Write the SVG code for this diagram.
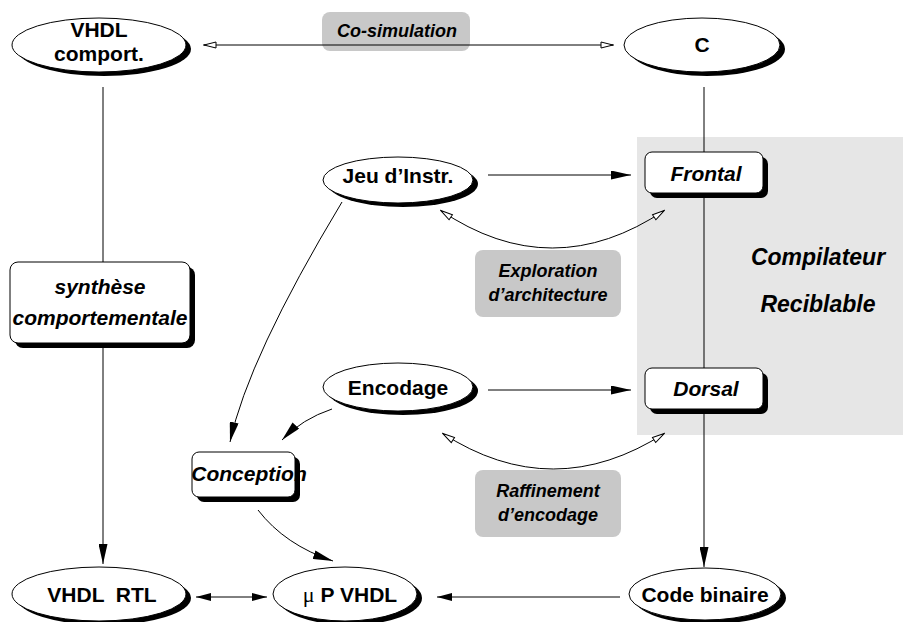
<svg xmlns="http://www.w3.org/2000/svg" width="903" height="622" viewBox="0 0 903 622">
  <style>
    .lbl { font-family: "Liberation Sans", Arial, sans-serif; font-weight: bold; font-size: 21px; fill: #000; text-anchor: middle; }
    .it { font-style: italic; }
    .note { font-family: "Liberation Sans", Arial, sans-serif; font-weight: bold; font-style: italic; font-size: 18px; fill: #000; text-anchor: middle; }
    .big { font-family: "Liberation Sans", Arial, sans-serif; font-weight: bold; font-style: italic; font-size: 23px; fill: #000; text-anchor: middle; }
    .node { fill: #fff; stroke: #000; stroke-width: 1; }
    .shadow { fill: #000; }
    .panel { fill: #c8c8c8; }
    .edge { fill: none; stroke: #000; stroke-width: 1; }
  </style>
  <defs>
    <marker id="solid" viewBox="0 0 20 9" refX="20" refY="4.5" markerWidth="20" markerHeight="9" markerUnits="userSpaceOnUse" orient="auto-start-reverse">
      <path d="M0,0 L20,4.5 L0,9 Z" fill="#000"/>
    </marker>
    <marker id="small" viewBox="0 0 15 8" refX="15" refY="4" markerWidth="15" markerHeight="8" markerUnits="userSpaceOnUse" orient="auto-start-reverse">
      <path d="M0,0 L15,4 L0,8 Z" fill="#000"/>
    </marker>
    <marker id="open" viewBox="0 0 14 8" refX="14" refY="4" markerWidth="14" markerHeight="8" markerUnits="userSpaceOnUse" orient="auto-start-reverse">
      <path d="M1,1 L13,4 L1,7 Z" fill="#fff" stroke="#000" stroke-width="1"/>
    </marker>
  </defs>

  <!-- retargetable compiler area -->
  <rect x="637" y="137" width="266" height="298" fill="#e6e6e6"/>
  <text class="big" x="818" y="265">Compilateur</text>
  <text class="big" x="818" y="312">Reciblable</text>

  <!-- annotation panels -->
  <g id="cosim">
    <rect class="panel" x="322" y="12" width="148" height="39" rx="8"/>
    <text class="note" x="397" y="37">Co-simulation</text>
  </g>
  <g id="explo">
    <rect class="panel" x="475" y="250" width="146" height="67" rx="8"/>
    <text class="note" x="548" y="277">Exploration</text>
    <text class="note" x="548" y="301">d’architecture</text>
  </g>
  <g id="raffin">
    <rect class="panel" x="475" y="470" width="146" height="67" rx="8"/>
    <text class="note" x="548" y="497">Raffinement</text>
    <text class="note" x="548" y="521">d’encodage</text>
  </g>

  <!-- connectors -->
  <g id="edges">
    <line class="edge" x1="203" y1="45" x2="614" y2="45" marker-start="url(#open)" marker-end="url(#open)"/>
    <line class="edge" x1="103" y1="87" x2="103" y2="262"/>
    <line class="edge" x1="103" y1="348" x2="103" y2="564" marker-end="url(#solid)"/>
    <line class="edge" x1="704" y1="87" x2="704" y2="567" marker-end="url(#solid)"/>
    <line class="edge" x1="488" y1="175" x2="631" y2="175" marker-end="url(#solid)"/>
    <line class="edge" x1="488" y1="390" x2="631" y2="390" marker-end="url(#solid)"/>
    <path class="edge" d="M440,210 Q552,286 665,210" marker-start="url(#open)" marker-end="url(#open)"/>
    <path class="edge" d="M442,433 Q553,505 665,433" marker-start="url(#open)" marker-end="url(#open)"/>
    <path class="edge" d="M342,202 Q248,358 230,442" marker-end="url(#solid)"/>
    <path class="edge" d="M332,409 Q302,419 282,440" marker-end="url(#solid)"/>
    <path class="edge" d="M258,510 Q285,545 333,561" marker-end="url(#solid)"/>
    <line class="edge" x1="196" y1="597" x2="267" y2="597" marker-start="url(#small)" marker-end="url(#small)"/>
    <line class="edge" x1="620" y1="597" x2="437" y2="597" marker-end="url(#small)"/>
  </g>

  <!-- nodes -->
  <g id="vhdl-comport">
    <ellipse class="shadow" cx="104" cy="49" rx="87" ry="27"/>
    <ellipse class="node" cx="99" cy="45" rx="87" ry="27"/>
    <text class="lbl" x="99" y="37">VHDL</text>
    <text class="lbl" x="99" y="61">comport.</text>
  </g>
  <g id="c">
    <ellipse class="shadow" cx="707" cy="49" rx="78" ry="27"/>
    <ellipse class="node" cx="702" cy="45" rx="78" ry="27"/>
    <text class="lbl" x="702" y="52">C</text>
  </g>
  <g id="synthese">
    <rect class="shadow" x="15" y="267" width="180" height="81" rx="8"/>
    <rect class="node" x="10" y="262" width="180" height="81" rx="8"/>
    <text class="lbl it" x="100" y="294">synthèse</text>
    <text class="lbl it" x="100" y="325">comportementale</text>
  </g>
  <g id="jeu">
    <ellipse class="shadow" cx="403" cy="184" rx="75" ry="23"/>
    <ellipse class="node" cx="398" cy="180" rx="75" ry="23"/>
    <text class="lbl" x="398" y="183">Jeu d’Instr.</text>
  </g>
  <g id="frontal">
    <rect class="shadow" x="650" y="157" width="118" height="41" rx="7"/>
    <rect class="node" x="645" y="152" width="118" height="41" rx="7"/>
    <text class="lbl it" x="706" y="181">Frontal</text>
  </g>
  <g id="encodage">
    <ellipse class="shadow" cx="403" cy="391" rx="75" ry="24"/>
    <ellipse class="node" cx="398" cy="387" rx="75" ry="24"/>
    <text class="lbl" x="398" y="395">Encodage</text>
  </g>
  <g id="dorsal">
    <rect class="shadow" x="650" y="373" width="118" height="41" rx="7"/>
    <rect class="node" x="645" y="368" width="118" height="41" rx="7"/>
    <text class="lbl it" x="706" y="396">Dorsal</text>
  </g>
  <g id="conception">
    <rect class="shadow" x="197" y="457" width="103" height="45" rx="7"/>
    <rect class="node" x="192" y="452" width="103" height="45" rx="7"/>
    <text class="lbl it" x="249" y="481">Conception</text>
  </g>
  <g id="vhdl-rtl">
    <ellipse class="shadow" cx="104" cy="598" rx="87" ry="27"/>
    <ellipse class="node" cx="99" cy="594" rx="87" ry="27"/>
    <text class="lbl" x="102" y="602" xml:space="preserve">VHDL  RTL</text>
  </g>
  <g id="up-vhdl">
    <ellipse class="shadow" cx="350" cy="598" rx="72" ry="27"/>
    <ellipse class="node" cx="345" cy="594" rx="72" ry="27"/>
    <text class="lbl" x="350" y="602"><tspan font-weight="normal" font-family="'Liberation Serif', serif" font-size="22">μ</tspan> P VHDL</text>
  </g>
  <g id="code-binaire">
    <ellipse class="shadow" cx="710" cy="598" rx="76" ry="26"/>
    <ellipse class="node" cx="705" cy="594" rx="76" ry="26"/>
    <text class="lbl" x="705" y="602">Code binaire</text>
  </g>
</svg>
